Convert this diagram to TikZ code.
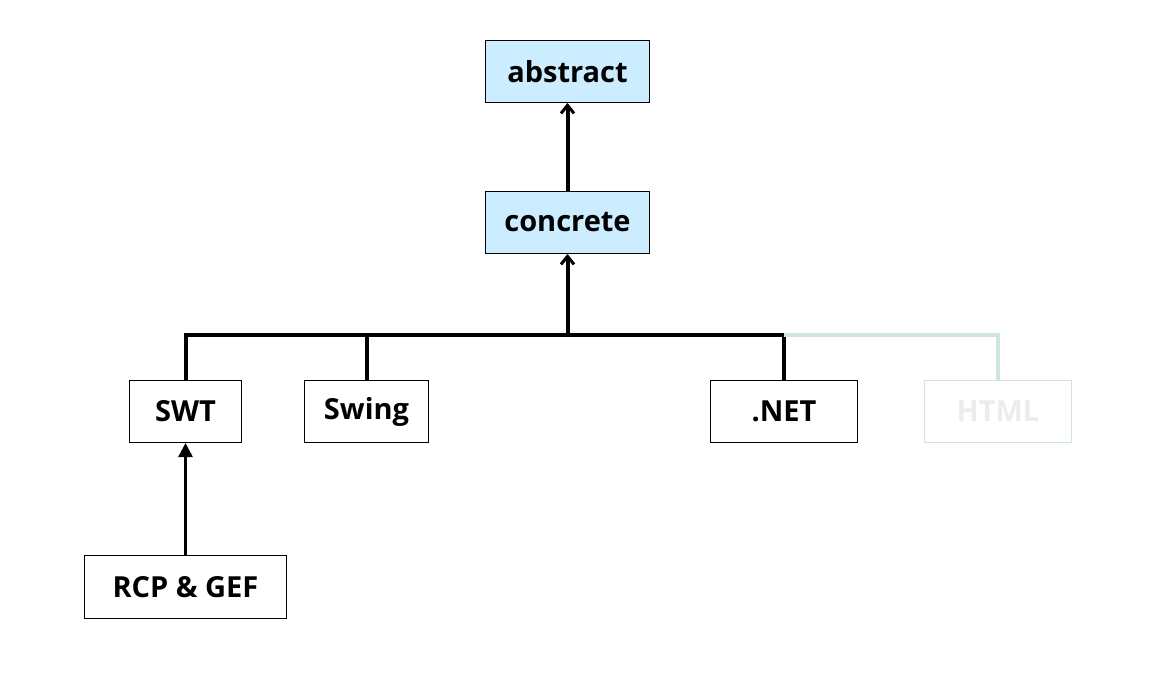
\documentclass[tikz,border=0pt]{standalone}
\usepackage{fontspec}
\setmainfont{Open Sans}
\usetikzlibrary{arrows.meta}
\definecolor{boxblue}{RGB}{204,236,255}
\definecolor{ghostline}{RGB}{205,229,220}
\definecolor{ghosttext}{RGB}{236,236,238}
\begin{document}
\begin{tikzpicture}[x=1pt,y=-1pt,
  box/.style={draw=black,line width=1pt,inner sep=0pt,anchor=north west,
    font=\fontsize{29}{33}\selectfont\bfseries},
  bus/.style={line width=4pt},
  up/.style={line width=4pt,-{Straight Barb[length=8pt,width=13pt,line width=3pt]}},
  tri/.style={line width=2.5pt,-{Triangle[length=14pt,width=14pt]}}]
\useasboundingbox (0,0) rectangle (1166,690);
\node[box,fill=boxblue,minimum width=164pt,minimum height=62pt] (abs) at (485,40) {abstract};
\node[box,fill=boxblue,minimum width=164pt,minimum height=62pt] (con) at (485,191) {concrete};
\node[box,minimum width=112pt,minimum height=62pt] (swt) at (129,380) {SWT};
\node[box,minimum width=124pt,minimum height=62pt] (swing) at (304,380) {Swing};
\node[box,minimum width=147pt,minimum height=62pt] (net) at (710,380) {.NET};
\node[box,draw=ghostline,text=ghosttext,minimum width=147pt,minimum height=62pt] (html) at (924,380) {HTML};
\node[box,minimum width=202pt,minimum height=63pt] (rcp) at (84,555) {RCP \& GEF};
\coordinate (j) at (con.south |- 0,335);
\draw[bus,line cap=butt] (swt.north) -- (swt.north |- j) -- (net.north |- j) -- (net.north);
\draw[bus] (swing.north) -- (swing.north |- j);
\draw[bus,ghostline] (net.north |- j) -- (html.north |- j) -- (html.north);
\draw[up] (j) -- (con.south);
\draw[up] (con.north) -- (abs.south);
\draw[tri] (rcp.north -| swt.south) -- (swt.south);
\end{tikzpicture}
\end{document}
